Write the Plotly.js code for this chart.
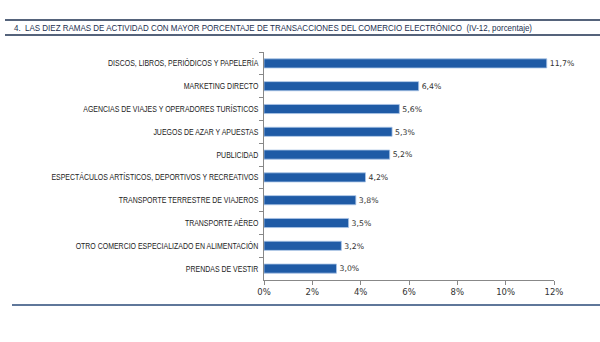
<!DOCTYPE html>
<html><head><meta charset="utf-8">
<script src="https://cdn.plot.ly/plotly-3.0.1.min.js"></script>
<style>html,body{margin:0;padding:0;background:#fff;}#chart{width:600px;height:342px;}</style>
</head><body><div id="chart"></div>
<script>
const categories = [
  "DISCOS, LIBROS, PERIÓDICOS Y PAPELERÍA",
  "MARKETING DIRECTO",
  "AGENCIAS DE VIAJES Y OPERADORES TURÍSTICOS",
  "JUEGOS DE AZAR Y APUESTAS",
  "PUBLICIDAD",
  "ESPECTÁCULOS ARTÍSTICOS, DEPORTIVOS Y RECREATIVOS",
  "TRANSPORTE TERRESTRE DE VIAJEROS",
  "TRANSPORTE AÉREO",
  "OTRO COMERCIO ESPECIALIZADO EN ALIMENTACIÓN",
  "PRENDAS DE VESTIR"
];
const values = [11.7, 6.4, 5.6, 5.3, 5.2, 4.2, 3.8, 3.5, 3.2, 3.0];
const xTicks = [0, 2, 4, 6, 8, 10, 12];
const xTickLabels = ["0%", "2%", "4%", "6%", "8%", "10%", "12%"];
const chartTitle = "4.  LAS DIEZ RAMAS DE ACTIVIDAD CON MAYOR PORCENTAJE DE TRANSACCIONES DEL COMERCIO ELECTRÓNICO  (IV-12, porcentaje)";

const labels = values.map(v => v.toFixed(1).replace('.', ',') + '%');
const sans = '"Liberation Sans", Arial, sans-serif';
const verd = 'Verdana, "DejaVu Sans", sans-serif';

const trace = {
  type: 'bar', orientation: 'h',
  x: values, y: categories,
  marker: {color: '#1f5ba6', line: {color: '#a9c4e6', width: 0.8}},
  text: labels, textposition: 'outside', cliponaxis: false,
  textfont: {family: verd, size: 8.5, color: '#333'},
  hoverinfo: 'none', width: 0.4
};

const L = 264, R = 554, T = 52, B = 280;
const W = R - L, H = B - T;
const px = x => (x - L) / W;
const py = y => (B - y) / H;

const layout = {
  width: 600, height: 342,
  margin: {l: L, r: 600 - R, t: T, b: 342 - B},
  paper_bgcolor: '#fff', plot_bgcolor: '#fff',
  showlegend: false,
  xaxis: {
    range: [0, 12], tickvals: xTicks, ticktext: xTickLabels,
    showgrid: false, zeroline: false, showline: true, linecolor: '#888', linewidth: 1,
    ticks: 'outside', ticklen: 4, tickcolor: '#888',
    tickfont: {family: verd, size: 8.5, color: '#333'}
  },
  yaxis: {
    autorange: 'reversed', showgrid: false, zeroline: false,
    showline: true, linecolor: '#888', linewidth: 1,
    ticks: 'outside', ticklen: 4, tickcolor: '#888', tickson: 'boundaries',
    ticklabelstandoff: 3,
    tickfont: {family: sans, size: 8.5, color: '#222'}
  },
  shapes: [
    {type: 'line', xref: 'paper', yref: 'paper', x0: px(5), x1: px(600),
     y0: py(20), y1: py(20), line: {color: '#1c2f4f', width: 1.5}},
    {type: 'line', xref: 'paper', yref: 'paper', x0: px(5), x1: px(600),
     y0: py(35), y1: py(35), line: {color: '#1c2f4f', width: 1.5}},
    {type: 'line', xref: 'paper', yref: 'paper', x0: px(12), x1: px(600),
     y0: py(305), y1: py(305), line: {color: '#2a4a78', width: 1.5}}
  ],
  annotations: [
    {text: chartTitle, xref: 'paper', yref: 'paper', x: px(12), y: py(27.5),
     xanchor: 'left', yanchor: 'middle', showarrow: false,
     font: {family: sans, size: 9, color: '#1c2f4f'}}
  ]
};

function squeeze(el, factor, keep) {
  const b0 = el.getBBox();
  const len = el.getComputedTextLength();
  el.setAttribute('textLength', (len * factor).toFixed(2));
  el.setAttribute('lengthAdjust', 'spacingAndGlyphs');
  const b1 = el.getBBox();
  const dx = keep === 'right' ? (b0.x + b0.width) - (b1.x + b1.width) : b0.x - b1.x;
  const x = parseFloat(el.getAttribute('x') || '0');
  el.setAttribute('x', (x + dx).toFixed(2));
}

Plotly.newPlot('chart', [trace], layout, {displayModeBar: false, staticPlot: true}).then(() => {
  document.querySelectorAll('#chart .ytick text').forEach(t => squeeze(t, 0.82, 'right'));
  document.querySelectorAll('#chart .annotation-text').forEach(t => {
    const len = t.getComputedTextLength();
    squeeze(t, 518 / len, 'left');
  });
});
</script></body></html>
